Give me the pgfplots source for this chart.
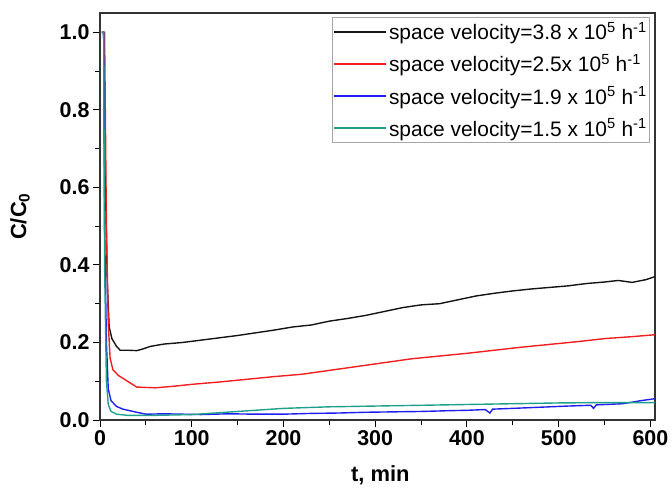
\documentclass[border=0pt]{standalone}
\usepackage{fontspec}
\setmainfont{Liberation Sans}
\usepackage{pgfplots}
\pgfplotsset{compat=1.18}
\definecolor{cblack}{RGB}{20,20,20}
\definecolor{cred}{RGB}{240,30,30}
\definecolor{cblue}{RGB}{30,30,240}
\definecolor{cteal}{RGB}{30,160,140}
\begin{document}
\begin{tikzpicture}
\begin{axis}[
  scale only axis,
  width=555bp, height=407bp,
  xmin=0, xmax=605, ymin=0, ymax=1.05,
  xtick={0,100,...,600}, ytick={0,0.2,0.4,0.6,0.8,1.0},
  minor x tick num=1, minor y tick num=1,
  xtick pos=bottom, ytick pos=left,
  tick align=outside,
  major tick length=7bp, minor tick length=5bp,
  every tick/.style={black, line width=1pt},
  axis line style={line width=1.2pt, black!80},
  /pgf/number format/assume math mode=true,
  yticklabel style={/pgf/number format/fixed, /pgf/number format/fixed zerofill, /pgf/number format/precision=1},
  tick label style={font=\fontsize{21.5}{24}\selectfont\bfseries},
  xlabel={t, min}, ylabel={C/C\textsubscript{0}},
  label style={font=\fontsize{22}{26}\selectfont\bfseries},
  xlabel style={at={(axis description cs:0.505,0)}, anchor=north, yshift=-42bp},
  ylabel style={at={(axis description cs:-0.12,0.5)}, anchor=south, rotate=0},
  legend style={at={(axis description cs:0.991,0.99)}, anchor=north east, draw=black!35, line width=0.6pt,
    font=\fontsize{21}{25}\selectfont, inner xsep=1bp, inner ysep=3bp, row sep=9bp, cells={anchor=west}},
  legend image code/.code={\draw[#1] (0bp,0bp) -- (52bp,0bp);},
  every axis plot/.append style={line width=1.4pt},
]
\addplot[cblack] coordinates {(2,1.0)(4,1.0)(6,0.6)(8,0.35)(10,0.24)(13,0.21)(18,0.19)(22,0.18)(30,0.18)(40,0.179)(45,0.182)(55,0.19)(70,0.196)(90,0.2)(110,0.206)(130,0.212)(150,0.218)(170,0.225)(190,0.232)(210,0.24)(230,0.245)(250,0.255)(270,0.262)(290,0.27)(310,0.28)(330,0.29)(350,0.297)(370,0.3)(390,0.31)(410,0.32)(430,0.327)(450,0.333)(470,0.338)(490,0.342)(510,0.346)(530,0.352)(550,0.356)(565,0.36)(580,0.355)(595,0.362)(605,0.37)};
\addlegendentry{space velocity=3.8 x 10\textsuperscript{5} h\textsuperscript{-1}}
\addplot[cred] coordinates {(2,1.0)(5,1.0)(7,0.5)(9,0.25)(11,0.16)(14,0.13)(20,0.115)(30,0.1)(40,0.085)(60,0.083)(80,0.087)(100,0.092)(130,0.098)(160,0.105)(190,0.112)(220,0.118)(250,0.128)(280,0.138)(310,0.148)(340,0.158)(370,0.165)(400,0.172)(430,0.18)(460,0.188)(490,0.195)(520,0.202)(550,0.21)(580,0.215)(605,0.22)};
\addlegendentry{space velocity=2.5x 10\textsuperscript{5} h\textsuperscript{-1}}
\addplot[cblue] coordinates {(2,1.0)(4,1.0)(5,0.5)(7,0.2)(9,0.08)(12,0.05)(18,0.035)(25,0.028)(40,0.02)(50,0.015)(70,0.016)(90,0.015)(110,0.014)(140,0.016)(170,0.015)(200,0.015)(230,0.017)(260,0.018)(290,0.02)(320,0.021)(350,0.022)(380,0.024)(400,0.025)(420,0.027)(425,0.018)(428,0.028)(450,0.03)(480,0.033)(510,0.036)(535,0.038)(538,0.03)(541,0.039)(570,0.042)(590,0.05)(605,0.055)};
\addlegendentry{space velocity=1.9 x 10\textsuperscript{5} h\textsuperscript{-1}}
\addplot[cteal] coordinates {(2,1.0)(4,1.0)(5,0.4)(7,0.1)(9,0.04)(12,0.022)(18,0.015)(30,0.012)(60,0.012)(100,0.014)(150,0.022)(200,0.03)(250,0.034)(300,0.036)(350,0.038)(400,0.04)(450,0.042)(500,0.044)(550,0.045)(605,0.045)};
\addlegendentry{space velocity=1.5 x 10\textsuperscript{5} h\textsuperscript{-1}}
\coordinate (sw) at (rel axis cs:0,0);
\coordinate (ne) at (rel axis cs:1,1);
\end{axis}
\path[use as bounding box] ([xshift=-100bp,yshift=-70bp]sw) rectangle ([xshift=17bp,yshift=13bp]ne);
\end{tikzpicture}
\end{document}
